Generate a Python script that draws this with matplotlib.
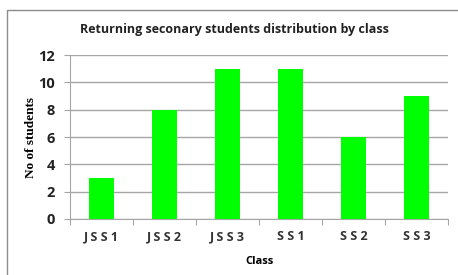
import matplotlib
matplotlib.use("Agg")
import matplotlib.pyplot as plt
from matplotlib.patches import Rectangle

categories = ["J S S 1", "J S S 2", "J S S 3", "S S 1", "S S 2", "S S 3"]
values = [3, 8, 11, 11, 6, 9]
yticks = [0, 2, 4, 6, 8, 10, 12]

fig = plt.figure(figsize=(4.58, 2.75), dpi=100)
fig.patch.set_facecolor("white")
fig.patches.append(Rectangle((7/458, -0.1), 1.2, 1 - 10/275 + 0.1, transform=fig.transFigure,
                             fill=False, edgecolor="#8c8c8c", linewidth=1))

ax = fig.add_axes([70/458, 1 - 219/275, 378/458, 164/275])
x = list(range(len(categories)))
ax.bar(x, values, width=0.4, color="#00ff00", zorder=3)
ax.set_xlim(-0.5, len(categories) - 0.5)
ax.set_ylim(0, 12)
ax.set_yticks(yticks)
ax.set_yticklabels([str(t) for t in yticks], fontsize=10.5, fontweight="bold",
                   family="Open Sans", color="#222222")
ax.yaxis.grid(True, color="#a6a6a6", linewidth=1, zorder=0)
ax.set_axisbelow(True)
for s in ["top", "right"]:
    ax.spines[s].set_visible(False)
ax.spines["left"].set_color("#a6a6a6")
ax.spines["bottom"].set_color("#a6a6a6")
ax.tick_params(axis="y", length=4, color="#a6a6a6", pad=7)
ax.set_xticks([i - 0.5 for i in range(len(categories) + 1)], minor=False)
ax.set_xticklabels([])
ax.set_xticks(x, minor=True)
ax.set_xticklabels(categories, minor=True, fontsize=9, fontweight="bold",
                   family="Open Sans", color="#333333")
ax.tick_params(axis="x", which="major", length=4, color="#a6a6a6")
ax.tick_params(axis="x", which="minor", length=0, pad=8)

ax.set_xlabel("Class", fontsize=8, fontweight="bold", family="Open Sans", labelpad=9)
ax.set_ylabel("No of students", fontsize=9.5, fontweight="bold", family="Liberation Serif",
              labelpad=1)
fig.text(234/458, 1 - 29/275, "Returning seconary students distribution by class",
         ha="center", va="center", fontsize=9, fontweight="bold", family="Open Sans",
         color="#222222")

fig.savefig("out.png", dpi=100)
